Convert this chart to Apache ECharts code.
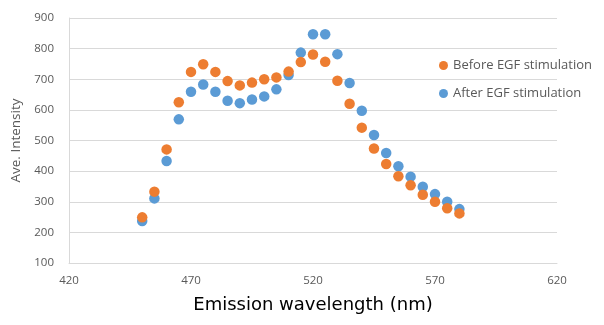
<!DOCTYPE html>
<html><head><meta charset="utf-8">
<script src="https://cdn.jsdelivr.net/npm/echarts@6/dist/echarts.min.js"></script>
<style>html,body{margin:0;padding:0;background:#fff}#c{width:604px;height:325px}</style>
</head><body><div id="c"></div>
<script>
const wavelengths = [450,455,460,465,470,475,480,485,490,495,500,505,510,515,520,525,530,535,540,545,550,555,560,565,570,575,580];
const beforeEGF = [249,333,471,625,724,749,724,694,680,689,700,706,725,756,781,757,695,620,542,474,423,383,354,323,300,279,262];
const afterEGF  = [237,311,433,569,659,683,659,630,622,634,644,667,714,787,847,847,782,688,597,518,459,416,382,349,325,300,276];
const seriesNames = ['Before EGF stimulation','After EGF stimulation'];
const xTicks = {min:420,max:620,interval:50};
const yTicks = {min:100,max:900,interval:100};

const pair = (ys) => wavelengths.map((x,i)=>[x,ys[i]]);
const chart = echarts.init(document.getElementById('c'), null, {renderer:'canvas'});
const txt = '#595959';
chart.setOption({
  animation:false,
  textStyle:{fontFamily:'Open Sans'},
  grid:{left:69,right:47,top:18,bottom:62},
  legend:{
    data:seriesNames, orient:'vertical', left:434, top:54, itemGap:15,
    icon:'circle', itemWidth:9, itemHeight:9,
    textStyle:{color:txt,fontSize:13,fontFamily:'Open Sans'}
  },
  xAxis:{
    type:'value', min:xTicks.min, max:xTicks.max, interval:xTicks.interval,
    name:'Emission wavelength (nm)', nameLocation:'middle', nameGap:33,
    nameTextStyle:{color:'#000',fontSize:18,fontFamily:'DejaVu Sans'},
    axisLine:{show:true,lineStyle:{color:'#d9d9d9'}},
    axisTick:{show:false},
    splitLine:{show:false},
    axisLabel:{color:txt,fontSize:11.5,margin:12}
  },
  yAxis:{
    type:'value', min:yTicks.min, max:yTicks.max, interval:yTicks.interval,
    name:'Ave. Intensity', nameLocation:'middle', nameGap:45, nameRotate:90,
    nameTextStyle:{color:txt,fontSize:13.5},
    axisLine:{show:true,lineStyle:{color:'#d9d9d9'}},
    axisTick:{show:false},
    splitLine:{lineStyle:{color:'#d9d9d9'}},
    axisLabel:{color:txt,fontSize:11.5,margin:15}
  },
  series:[
    {name:seriesNames[1],type:'scatter',data:pair(afterEGF),symbolSize:10.5,itemStyle:{color:'#5B9BD5',opacity:1},z:2},
    {name:seriesNames[0],type:'scatter',data:pair(beforeEGF),symbolSize:10.5,itemStyle:{color:'#ED7D31',opacity:1},z:3}
  ]
});
</script></body></html>
